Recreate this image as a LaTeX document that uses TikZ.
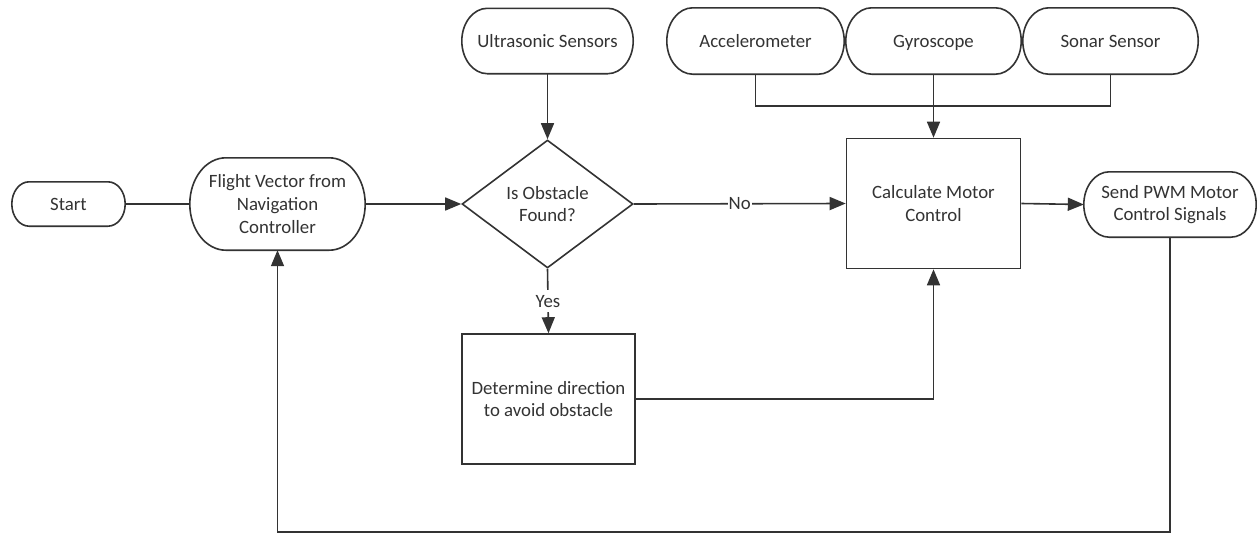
\documentclass[tikz,border=0pt]{standalone}
\usepackage{fontspec}
\setmainfont{Carlito}
\usetikzlibrary{arrows.meta,shapes.geometric,calc}

\colorlet{ink}{black!80}

% Terminator outline with elliptical ends, drawn around a named node
\newcommand\pillframe[1]{%
  \draw[edge] let \p1=(#1.north east), \p2=(#1.south west),
    \n1={(\y1-\y2)/2}, \n2={0.78*(\y1-\y2)/2} in
    (\x2+\n2,\y1) -- (\x1-\n2,\y1)
    arc[start angle=90,end angle=-90,x radius=\n2,y radius=\n1]
    -- (\x2+\n2,\y2)
    arc[start angle=270,end angle=90,x radius=\n2,y radius=\n1] -- cycle;}

\tikzset{
  base/.style={font=\fontsize{18.8}{22.7}\selectfont, text=ink, align=center, inner sep=0pt},
  oneline/.style={text height=16pt, text depth=4pt},
  pill/.style={base, minimum width=#1, minimum height=65pt},
  procbox/.style={base, draw=ink, line width=1.6pt, minimum width=174pt, minimum height=130pt},
  decision/.style={base, draw=ink, line width=1.6pt, shape=diamond, minimum width=171pt, minimum height=128pt},
  edge/.style={draw=ink, line width=1.6pt},
  arr/.style={edge, -{Triangle[length=16pt,width=13pt]}},
  lbl/.style={base, oneline, fill=white, inner sep=1pt},
}

\begin{document}
\begin{tikzpicture}[x=1pt,y=-1pt]
\useasboundingbox[fill=white] (0,0) rectangle (1257,533);

% main row
\node[pill=113pt, oneline, minimum height=44pt] (st) at (68.5,204) {Start};
\node[pill=175pt, minimum height=92pt] (fv) at (277.5,204) {Flight Vector from\\Navigation\\Controller};
\node[decision] (dec) at (547.5,204) {Is Obstacle\\Found?};
\node[procbox] (calc) at (933.5,203.5) {Calculate Motor\\Control};
\node[pill=172pt] (pwm) at (1170,204.5) {Send PWM Motor\\Control Signals};

% sensors
\node[pill=171pt, oneline] (us) at (547.5,41) {Ultrasonic Sensors};
\node[pill=177pt, oneline, minimum height=66pt] (acc) at (755.5,41) {Accelerometer};
\node[pill=175pt, oneline, minimum height=66pt] (gyr) at (933.5,41) {Gyroscope};
\node[pill=175pt, oneline, minimum height=66pt] (son) at (1110.5,41) {Sonar Sensor};

% avoidance step
\node[procbox, minimum width=173pt] (det) at (548.5,399) {Determine direction\\to avoid obstacle};

\pillframe{st}
\pillframe{fv}
\pillframe{pwm}
\pillframe{us}
\pillframe{acc}
\pillframe{gyr}
\pillframe{son}

\coordinate (bus) at (0,106);
\coordinate (fb) at (0,532);

% connectors
\draw[edge] (st.east) -- (fv.west);
\draw[arr] (fv.east) -- (dec.west);
\draw[arr] (us.south) -- (dec.north);
\draw[arr] (dec.east) -- node[lbl] {No} (calc.west);
\draw[arr] (dec.south) -- node[lbl] {Yes} (det.north);
\draw[arr] (calc.east) -- (pwm.west);
\draw[edge] (acc.south) -- (acc.south |- bus) -- (son.south |- bus) -- (son.south);
\draw[arr] (gyr.south) -- (calc.north);
\draw[arr] (det.east) -| (calc.south);
\draw[arr] (pwm.south) -- (pwm.south |- fb) -- (fv.south |- fb) -- (fv.south);
\end{tikzpicture}
\end{document}
